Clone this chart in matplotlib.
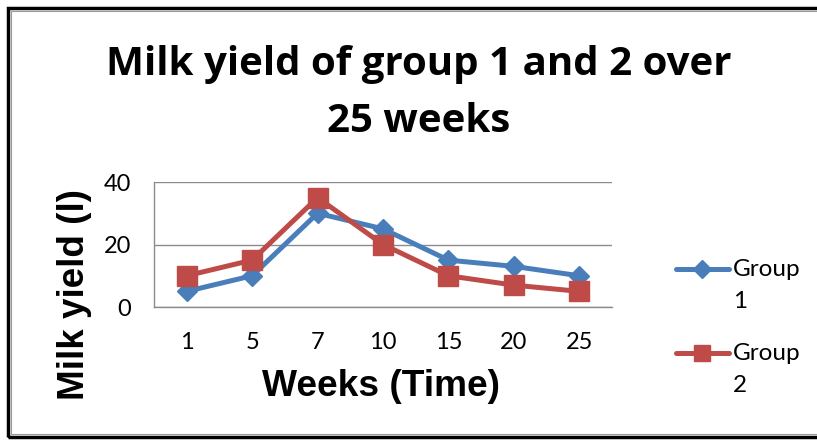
import matplotlib
matplotlib.use("Agg")
import matplotlib.pyplot as plt
from matplotlib.patches import Rectangle
from matplotlib.lines import Line2D

weeks = ["1", "5", "7", "10", "15", "20", "25"]
group1 = [5, 10, 30, 25, 15, 13, 10]
group2 = [10, 15, 35, 20, 10, 7, 5]
yticks = [0, 20, 40]

W, H = 817, 446
fig = plt.figure(figsize=(W / 100, H / 100), dpi=100)

def fx(px):
    return px / W

def fy(py):
    return 1 - py / H

# chart frame
fig.patches.append(Rectangle((fx(8), fy(437)), fx(830) - fx(8), fy(8) - fy(437),
                             transform=fig.transFigure, fill=False,
                             edgecolor="black", linewidth=2.5, zorder=0))
fig.patches.append(Rectangle((fx(11), fy(434)), fx(830) - fx(11), fy(11) - fy(434),
                             transform=fig.transFigure, fill=False,
                             edgecolor="#9a9a9a", linewidth=0.8, zorder=0))

ax = fig.add_axes([fx(154), fy(307), fx(612) - fx(154), fy(182) - fy(307)])
x = list(range(len(weeks)))
blue = "#4A7EBB"
red = "#BE4B48"
ax.plot(x, group1, color=blue, linewidth=3.6, marker="D", markersize=10.5,
        markerfacecolor=blue, markeredgecolor=blue, zorder=3)
ax.plot(x, group2, color=red, linewidth=3.6, marker="s", markersize=14,
        markerfacecolor=red, markeredgecolor=red, zorder=4)

ax.set_xlim(-0.5, len(weeks) - 0.5)
ax.set_ylim(0, 40)
ax.set_xticks(x)
ax.set_xticklabels(weeks)
ax.set_yticks(yticks)
ax.tick_params(axis="both", length=0, labelsize=17)
for lab in ax.get_xticklabels() + ax.get_yticklabels():
    lab.set_fontfamily("Lato")
ax.tick_params(axis="x", pad=18)
ax.tick_params(axis="y", pad=16.5)
ax.grid(axis="y", color="#8c8c8c", linewidth=1)
ax.set_axisbelow(True)
for side in ["top", "right"]:
    ax.spines[side].set_visible(False)
ax.spines["bottom"].set_color("#8c8c8c")
ax.spines["left"].set_color("#8c8c8c")
ax.spines["bottom"].set_linewidth(1)
ax.spines["left"].set_linewidth(1)

fig.text(fx(419), fy(75), "Milk yield of group 1 and 2 over", ha="center", va="baseline",
         fontsize=29, fontweight="bold", family="Open Sans")
fig.text(fx(419), fy(132), "25 weeks", ha="center", va="baseline",
         fontsize=29, fontweight="bold", family="Open Sans")

fig.text(fx(75), fy(295), "Milk yield (l)", rotation=90, ha="center", va="center",
         fontsize=26.5, fontweight="bold", family="Liberation Sans")
fig.text(fx(381), fy(386), "Weeks (Time)", ha="center", va="center",
         fontsize=26.7, fontweight="bold", family="Liberation Sans")

# legend
for ly, col, mk, ms, name in [(269, blue, "D", 9, "Group\n1"), (353, red, "s", 12, "Group\n2")]:
    fig.add_artist(Line2D([fx(676), fx(729)], [fy(ly), fy(ly)], transform=fig.transFigure,
                          color=col, linewidth=3.6, solid_capstyle="round"))
    fig.add_artist(Line2D([fx(702)], [fy(ly)], transform=fig.transFigure, color=col,
                          marker=mk, markersize=ms, markerfacecolor=col, markeredgecolor=col))
    fig.text(fx(733), fy(ly), name.split("\n")[0], ha="left", va="center", fontsize=17.5,
             family="Lato")
    fig.text(fx(733), fy(ly + 32), name.split("\n")[1], ha="left", va="center", fontsize=17.5,
             family="Lato")

fig.savefig("out.png", dpi=100)
